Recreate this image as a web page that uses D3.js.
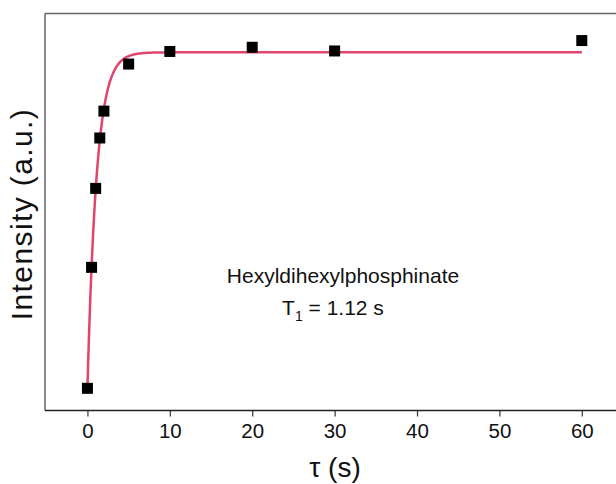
<!DOCTYPE html>
<html>
<head>
<meta charset="utf-8">
<script src="https://cdn.jsdelivr.net/npm/d3@7"></script>
<style>
  body { margin: 0; background: #fff; }
  svg { display: block; font-family: 'Liberation Sans', Arial, sans-serif; }
</style>
</head>
<body>
<div id="chart"></div>
<script>
// measured points (tau in s, intensity in a.u.)
const tau = [0, 0.5, 1, 1.5, 2, 5, 10, 20, 30, 60]
const intensity = [-1.0, -0.28, 0.19, 0.49, 0.65, 0.93, 1.005, 1.03, 1.008, 1.07]
const xTicks = [0, 10, 20, 30, 40, 50, 60]

// fit: I = A(1 - 2 exp(-tau/T1))
const T1 = 1.12
const A = 1.0

const width = 616
const height = 484
const margin = { top: 13.5, left: 45, right: -7, bottom: 73.5 }

const svg = d3.select('#chart')
  .append('svg')
  .attr('width', width)
  .attr('height', height)

const xScale = d3.scaleLinear()
  .domain([-5.15, 65])
  .range([margin.left, width - margin.right])

const yScale = d3.scaleLinear()
  .domain([-1.132, 1.231])
  .range([height - margin.bottom, margin.top])

// frame: top + left grey, bottom axis black
svg.append('line')
  .attr('x1', margin.left).attr('x2', width + 5)
  .attr('y1', margin.top).attr('y2', margin.top)
  .attr('stroke', '#666').attr('stroke-width', 1.5)
svg.append('line')
  .attr('x1', margin.left).attr('x2', margin.left)
  .attr('y1', margin.top).attr('y2', height - margin.bottom)
  .attr('stroke', '#666').attr('stroke-width', 1.5)

const xAxis = d3.axisBottom(xScale)
  .tickValues(xTicks)
  .tickSize(6)
  .tickPadding(6.5)

const gx = svg.append('g')
  .attr('transform', `translate(0,${height - margin.bottom})`)
  .call(xAxis)
gx.select('.domain').remove()
gx.append('line')
  .attr('x1', margin.left).attr('x2', width + 5)
  .attr('stroke', '#222').attr('stroke-width', 1.5)
gx.selectAll('.tick line').attr('stroke', '#333').attr('stroke-width', 1.2)
gx.selectAll('.tick text')
  .attr('fill', '#111')
  .style('font-size', '20.5px')
  .style('font-family', "'Liberation Sans', Arial, sans-serif")

// fit curve
const fitTau = d3.range(0, 60.01, 0.05)
const line = d3.line()
  .x(d => xScale(d))
  .y(d => yScale(A * (1 - 2 * Math.exp(-d / T1))))

svg.append('path')
  .datum(fitTau)
  .attr('d', line)
  .attr('fill', 'none')
  .attr('stroke', '#e0466c')
  .attr('stroke-width', 2.5)

// data markers
const s = 11
svg.selectAll('rect.pt')
  .data(tau)
  .enter()
  .append('rect')
  .attr('class', 'pt')
  .attr('x', d => xScale(d) - s / 2)
  .attr('y', (d, i) => yScale(intensity[i]) - s / 2)
  .attr('width', s)
  .attr('height', s)
  .attr('fill', '#000')

// labels
svg.append('text')
  .attr('transform', 'translate(32,214) rotate(-90)')
  .attr('text-anchor', 'middle')
  .style('font-size', '30px')
  .style('letter-spacing', '1.4px')
  .attr('fill', '#111')
  .text('Intensity (a.u.)')

svg.append('text')
  .attr('x', 335)
  .attr('y', 477)
  .attr('text-anchor', 'middle')
  .style('font-size', '28px')
  .attr('fill', '#111')
  .text('τ (s)')

svg.append('text')
  .attr('x', 343)
  .attr('y', 283)
  .attr('text-anchor', 'middle')
  .style('font-size', '21px')
  .attr('fill', '#111')
  .text('Hexyldihexylphosphinate')

const t1 = svg.append('text')
  .attr('x', 333)
  .attr('y', 315)
  .attr('text-anchor', 'middle')
  .style('font-size', '21px')
  .attr('fill', '#111')
t1.append('tspan').text('T')
t1.append('tspan').attr('dy', 6).style('font-size', '14px').text('1')
t1.append('tspan').attr('dy', -6).text(' = 1.12 s')
</script>
</body>
</html>
